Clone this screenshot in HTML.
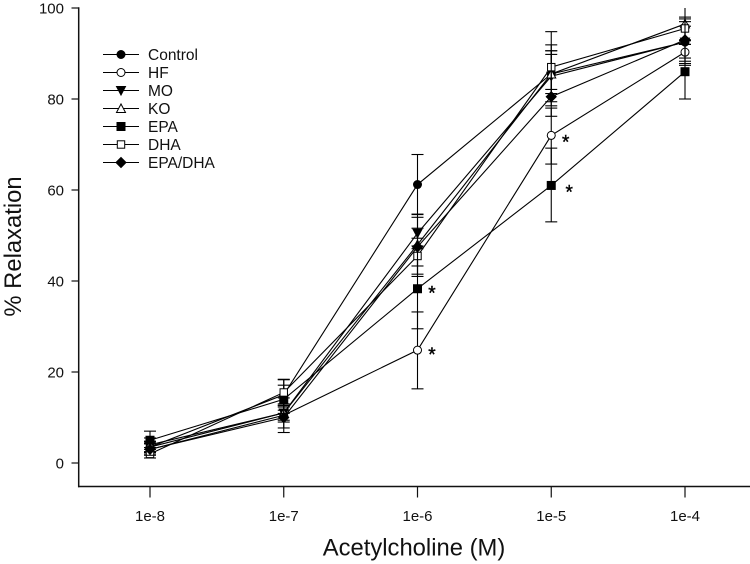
<!DOCTYPE html>
<html>
<head>
<meta charset="utf-8">
<title>Relaxation vs Acetylcholine</title>
<style>
html,body{margin:0;padding:0;background:#fff;}
svg{display:block;font-family:"Liberation Sans",sans-serif;}
</style>
</head>
<body>
<svg id="chart" width="750" height="564" viewBox="0 0 750 564" xmlns="http://www.w3.org/2000/svg"></svg>
<script>
const categories = ['1e-8','1e-7','1e-6','1e-5','1e-4'];
const yTicks = [0,20,40,60,80,100];
const seriesNames = ['Control','HF','MO','KO','EPA','DHA','EPA/DHA'];
const controlValues = [3.5,15,61.2,85.5,92.5];
const controlUpper = [4.6,18.4,67.8,94.8,97.6];
const controlLower = [2.4,11.6,54.6,76.2,87.4];
const hfValues = [3,10.5,24.8,72,90.3];
const hfUpper = [4.2,14.3,33.2,78,92.8];
const hfLower = [1.8,6.7,16.3,65.7,87.8];
const moValues = [3.5,11,50.5,85,92.5];
const moUpper = [4.8,12.6,51.6,90.6,96];
const moLower = [2.2,9.4,49.4,79.4,89];
const koValues = [4,11,48,85.5,96.5];
const koUpper = [5.5,13,54.7,89.8,101];
const koLower = [2.5,9,41.5,81.2,92];
const epaValues = [5,14,38.3,61,86];
const epaUpper = [7,17.1,47.1,69.2,92];
const epaLower = [3,10.9,29.5,53,80];
const dhaValues = [2,15.5,45.5,87,95.5];
const dhaUpper = [3.4,18.3,47.7,91.9,98];
const dhaLower = [1.1,12.7,43.3,82.1,93];
const epaDhaValues = [3,10,47.5,80.5,93];
const epaDhaUpper = [4.3,12.3,54,90.6,97];
const epaDhaLower = [1.7,7.7,41,78.5,88.3];
const annotationCategories = [2,2,3,3];
const annotationValues = [24.8,38.3,72,61];
const allValues = [controlValues,hfValues,moValues,koValues,epaValues,dhaValues,epaDhaValues];
const allUpper = [controlUpper,hfUpper,moUpper,koUpper,epaUpper,dhaUpper,epaDhaUpper];
const allLower = [controlLower,hfLower,moLower,koLower,epaLower,dhaLower,epaDhaLower];
const NS = 'http://www.w3.org/2000/svg';
const svg = document.getElementById('chart');
function xScale(i){ return 150 + i * 133.75; }
function yScale(v){ return 463 - v * 4.55; }
function yClamped(v){ return yScale(Math.min(v,100)); }
function mk(tag, attrs, parent){
  const e = document.createElementNS(NS, tag);
  for (const k in attrs) e.setAttribute(k, attrs[k]);
  (parent || svg).appendChild(e);
  return e;
}
function drawMarker(kind, x, y, parent){
  const solid = {fill:'#000',stroke:'#000','stroke-width':1};
  const open = {fill:'#fff',stroke:'#000','stroke-width':1};
  let m;
  if (kind === 0) m = mk('circle', {cx:x,cy:y,r:4,...solid}, parent);
  if (kind === 1) m = mk('circle', {cx:x,cy:y,r:4,...open}, parent);
  if (kind === 2) m = mk('polygon', {points:`${x-4.5},${y-4} ${x+4.5},${y-4} ${x},${y+4.5}`,...solid}, parent);
  if (kind === 3) m = mk('polygon', {points:`${x-4.5},${y+4} ${x+4.5},${y+4} ${x},${y-4.5}`,...open}, parent);
  if (kind === 4) m = mk('rect', {x:x-4,y:y-4,width:8,height:8,...solid}, parent);
  if (kind === 5) m = mk('rect', {x:x-3.7,y:y-3.7,width:7.4,height:7.4,...open}, parent);
  if (kind === 6) m = mk('polygon', {points:`${x-5},${y} ${x},${y-5} ${x+5},${y} ${x},${y+5}`,...solid}, parent);
  
  
}
/* axes */
const axes = mk('g', {stroke:'#111','stroke-width':1.5,fill:'none'});


const yAxis = mk('line', {x1:78.7,y1:7.3,x2:78.7,y2:487.2}, axes);


const xAxis = mk('line', {x1:78,y1:486.5,x2:750,y2:486.5}, axes);


yTicks.forEach(function(t){
  const y = yScale(t);
  const tk = mk('line', {x1:71.5,y1:y,x2:78.7,y2:y,'stroke-width':1.2}, axes);
  
  
  const lb = mk('text', {x:64,y:y+5.5,'text-anchor':'end','font-size':15,fill:'#111',stroke:'none'}, axes);
  
  
  lb.textContent = t;
});
categories.forEach(function(c,i){
  const x = xScale(i);
  const tk = mk('line', {x1:x,y1:486.5,x2:x,y2:497.5,'stroke-width':1.2}, axes);
  
  
  const lb = mk('text', {x:x,y:521,'text-anchor':'middle','font-size':15,fill:'#111',stroke:'none'}, axes);
  
  
  lb.textContent = c;
});
const xTitle = mk('text', {x:414,y:555.5,'text-anchor':'middle','font-size':23.8,fill:'#111'});


xTitle.textContent = 'Acetylcholine (M)';
const yTitle = mk('text', {x:0,y:0,transform:'translate(21,246.5) rotate(-90)','text-anchor':'middle','font-size':23.8,fill:'#111'});


yTitle.textContent = '% Relaxation';
/* series */
seriesNames.forEach(function(name,s){
  const g = mk('g', {});
  
  
  categories.forEach(function(c,i){
    const x = xScale(i), u = yClamped(allUpper[s][i]), l = yClamped(allLower[s][i]);
    const st = {stroke:'#000','stroke-width':1.1};
    const bar = mk('line', {x1:x,y1:u,x2:x,y2:l,...st}, g);
    
    
    if (allUpper[s][i] <= 100) {
      const capTop = mk('line', {x1:x-6,y1:u,x2:x+6,y2:u,...st}, g);
      
      
    }
    const capBottom = mk('line', {x1:x-6,y1:l,x2:x+6,y2:l,...st}, g);
    
    
  });
  const pts = allValues[s].map(function(v,i){ return xScale(i) + ',' + yScale(v); }).join(' ');
  const line = mk('polyline', {points:pts,fill:'none',stroke:'#000','stroke-width':1.1}, g);
  
  
  allValues[s].forEach(function(v,i){ drawMarker(s, xScale(i), yScale(v), g); });
});
/* significance stars */
annotationValues.forEach(function(v,i){
  const cat = annotationCategories[i];
  const offset = (v === 61) ? 18 : 14.5;
  const drop = cat === 3 ? 13 : 11;
  const st = mk('text', {x:xScale(cat)+offset,y:yScale(v)+drop,'text-anchor':'middle','font-size':19,'fill':'#000',stroke:'#000','stroke-width':0.4});
  
  
  st.textContent = '*';
});
/* legend */
const legend = mk('g', {});


seriesNames.forEach(function(name,s){
  const y = 54.5 + s * 18;
  const row = mk('g', {}, legend);
  
  
  mk('line', {x1:103,y1:y,x2:139,y2:y,stroke:'#000','stroke-width':1}, row);
  drawMarker(s, 121, y, row);
  const t = mk('text', {x:148,y:y+5.5,'font-size':15.5,fill:'#111'}, row);
  
  
  t.textContent = name;
});
</script>
</body>
</html>
